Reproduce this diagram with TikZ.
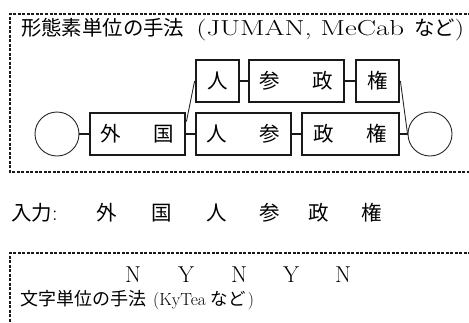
\documentclass[tikz,border=0pt]{standalone}
\usepackage{fontspec}
\newfontfamily\jp{Noto Sans CJK JP}
\newcommand{\fs}[1]{\fontsize{#1}{#1}\selectfont}
\begin{document}
\begin{tikzpicture}[x=1pt,y=-1pt,
  wbox/.style={draw=black!90, line width=2.8pt, minimum height=42pt, inner sep=0pt, font=\fs{20.5}\jp},
  endc/.style={draw=black!85, circle, line width=0.9pt, minimum size=44pt, inner sep=0pt},
  conn/.style={draw=black!90, line width=1.6pt},
  slant/.style={draw=black!85, line width=0.9pt},
  dbox/.style={draw=black!90, line width=1.3pt, dash pattern=on 3pt off 1.5pt},
  txt/.style={inner sep=0pt, anchor=base west},
  ch/.style={inner sep=0pt, anchor=base, font=\fs{20.5}\jp},
  lab/.style={inner sep=0pt, anchor=base, font=\fs{23}}]
\useasboundingbox (0,0) rectangle (469,322);
\clip (0,0) rectangle (469,322);
% dashed frames
\draw[dbox] (480,14) -- (10,14) -- (10,172) -- (480,172);
\draw[dbox] (480,253) -- (10,253) -- (10,340);
% titles
\node[txt] (t1) at (21,35) {{\fs{20.4}\jp 形態素単位の手法}\hspace{12pt}{\fs{21.7}\scalebox{1.33}[1]{(JUMAN, MeCab}}\hspace{10pt}{\fs{20.4}\jp など}{\fs{21.7}\scalebox{1.2}[1]{)}}};
\node[txt] (t2) at (20,305) {{\fs{18}\jp 文字単位の手法}\hspace{7pt}{\fs{17.5}(KyTea}\hspace{5pt}{\fs{17.5}\jp など}\hspace{2pt}{\fs{17.5})}};
% lattice
\node[endc] (lc) at (57,134) {};
\node[endc] (rc) at (430,134) {};
\node[wbox, minimum width=95pt] (gk) at (137.5,134) {外\hspace{33pt}国};
\node[wbox, minimum width=95pt] (js) at (243.5,134) {人\hspace{33pt}参};
\node[wbox, minimum width=97pt] (sk) at (350.5,134) {政\hspace{33pt}権};
\node[wbox, minimum width=43pt] (jn) at (217.5,81) {人};
\node[wbox, minimum width=95pt] (ss) at (296.5,81) {参\hspace{33pt}政};
\node[wbox, minimum width=43pt] (kn) at (377.5,81) {権};
\draw[conn] (lc.east) -- (gk.west);
\draw[conn] (gk.east) -- (js.west);
\draw[conn] (js.east) -- (sk.west);
\draw[conn] (sk.east) -- (rc.west);
\draw[conn] (jn.east) -- (ss.west);
\draw[conn] (ss.east) -- (kn.west);
\draw[slant] ([yshift=-10pt]gk.north east) -- (jn.west);
\draw[slant] (kn.east) -- (rc.west);
% input line
\node[txt] (inp) at (11,220) {{\fs{20.5}\jp 入力}{\fs{22}:}};
\node[ch] (c1) at (107,220) {外};
\node[ch] (c2) at (162,220) {国};
\node[ch] (c3) at (217,220) {人};
\node[ch] (c4) at (270,220) {参};
\node[ch] (c5) at (319,220) {政};
\node[ch] (c6) at (372,220) {権};
% labels
\node[lab] (l1) at (133,282) {N};
\node[lab] (l2) at (186,282) {Y};
\node[lab] (l3) at (239,282) {N};
\node[lab] (l4) at (291,282) {Y};
\node[lab] (l5) at (343,282) {N};
\end{tikzpicture}
\end{document}
